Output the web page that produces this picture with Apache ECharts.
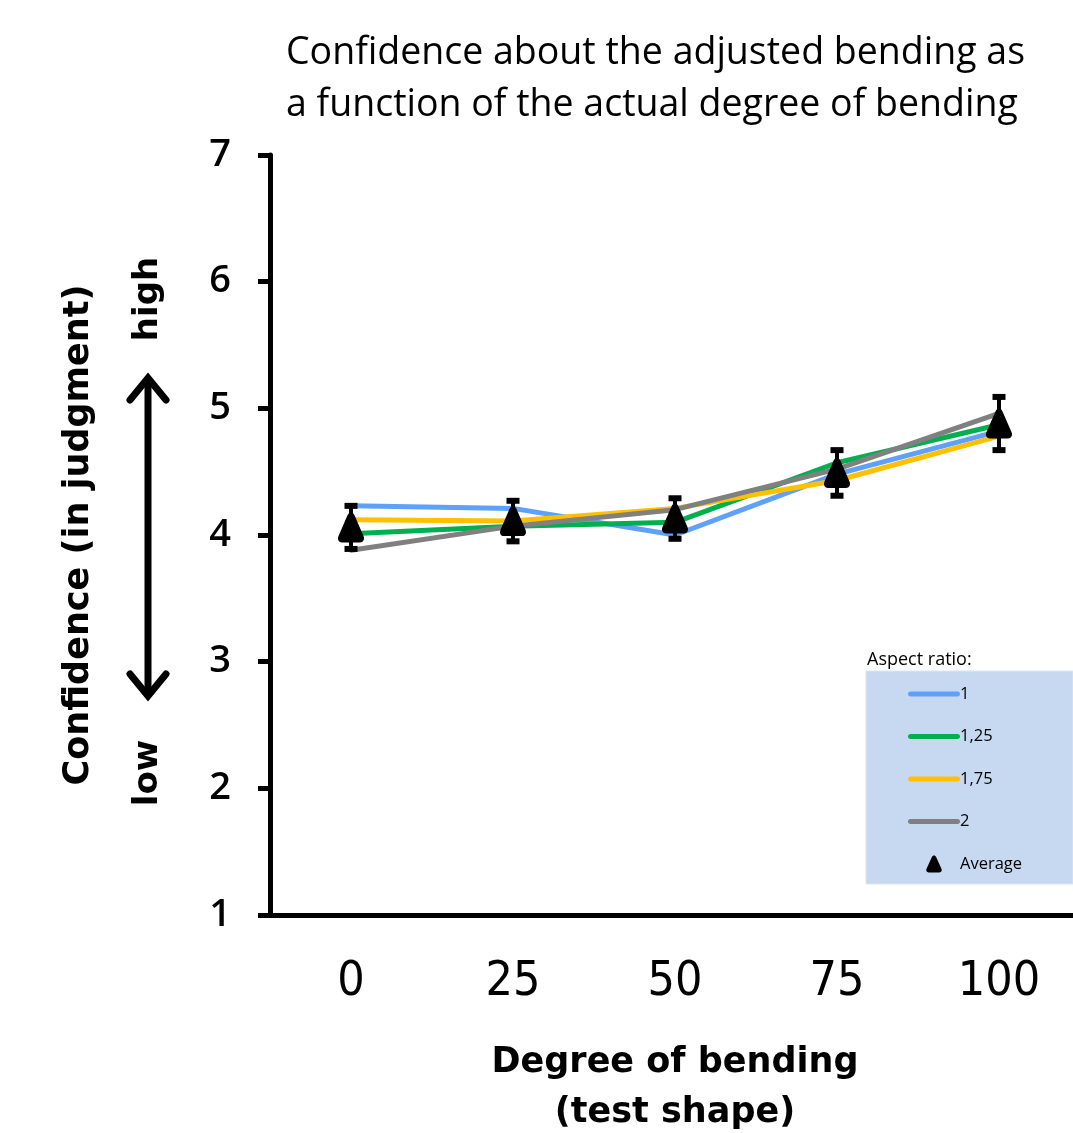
<!DOCTYPE html>
<html><head><meta charset="utf-8">
<script src="https://cdn.jsdelivr.net/npm/echarts@6/dist/echarts.min.js"></script>
<style>html,body{margin:0;padding:0;background:#fff}#c{width:1073px;height:1133px}</style>
</head><body><div id="c"></div>
<script>
const categories = ['0', '25', '50', '75', '100'];
const ratio1 = [4.23, 4.21, 4.00, 4.48, 4.82];
const ratio125 = [4.01, 4.07, 4.10, 4.57, 4.87];
const ratio175 = [4.12, 4.11, 4.21, 4.43, 4.78];
const ratio2 = [3.88, 4.07, 4.20, 4.52, 4.96];
const average = [4.06, 4.11, 4.13, 4.49, 4.88];
const averageErr = [0.17, 0.16, 0.16, 0.18, 0.21];
const yTicks = [1, 2, 3, 4, 5, 6, 7];

const chart = echarts.init(document.getElementById('c'));
const titleFont = '"Open Sans", Lato, sans-serif';
const heavyFont = '"DejaVu Sans", sans-serif';
const triPath = 'path://M10,0 C11.2,0 12,0.8 12.6,2 L19.2,16.5 C20.3,18.8 19,21 16.6,21 L3.4,21 C1,21 -0.3,18.8 0.8,16.5 L7.4,2 C8,0.8 8.8,0 10,0 Z';
const linePath = 'path://M2.5,0 L49.5,0 C51,0 52,1.1 52,2.5 C52,3.9 51,5 49.5,5 L2.5,5 C1,5 0,3.9 0,2.5 C0,1.1 1,0 2.5,0 Z';

function lineSeries(name, data, color) {
  return {
    name, type: 'line', data, symbol: 'none', z: 3,
    lineStyle: { color, width: 5, cap: 'round', join: 'round' },
    itemStyle: { color }
  };
}

const errData = average.map((v, i) => [i, v - averageErr[i], v + averageErr[i]]);

chart.setOption({
  animation: false,
  backgroundColor: '#fff',
  title: {
    text: 'Confidence about the adjusted bending as\na function of the actual degree of bending',
    left: 281, top: 22,
    textStyle: { fontFamily: titleFont, fontSize: 37.5, fontWeight: 'normal', lineHeight: 52, color: '#000' }
  },
  grid: { left: 270, top: 155, width: 810, height: 760, outerBoundsMode: 'none', containLabel: false },
  legend: {
    orient: 'vertical', left: 903, top: 680.5,
    itemWidth: 52, itemHeight: 17, itemGap: 25.5,
    textStyle: { fontFamily: titleFont, fontSize: 16.5, color: '#000', padding: [0, 0, 0, -5] },
    data: [
      { name: '1', icon: linePath }, { name: '1,25', icon: linePath },
      { name: '1,75', icon: linePath }, { name: '2', icon: linePath },
      { name: 'Average', icon: triPath }
    ]
  },
  xAxis: {
    type: 'category', data: categories, boundaryGap: true,
    axisLine: { lineStyle: { color: '#000', width: 5 } },
    axisTick: { length: 12, lineStyle: { width: 5, color: '#000' } },
    axisLabel: { fontFamily: '"Liberation Sans Narrow", "DejaVu Sans Condensed", sans-serif', fontSize: 48, color: '#000', margin: 44 },
    name: 'Degree of bending\n(test shape)', nameLocation: 'middle', nameGap: 123,
    nameTextStyle: { fontFamily: heavyFont, fontSize: 35, fontWeight: 'bold', color: '#000', lineHeight: 50, verticalAlign: 'top' }
  },
  yAxis: {
    type: 'value', min: 1, max: 7, interval: 1,
    splitLine: { show: false },
    axisLine: { show: true, lineStyle: { color: '#000', width: 5 } },
    axisTick: { show: true, length: 12, lineStyle: { width: 5, color: '#000' } },
    axisLabel: { fontFamily: '"Open Sans", Lato, sans-serif', fontSize: 38, fontWeight: 600, color: '#000', margin: 39, formatter: v => yTicks.includes(v) ? String(v) : '' },
    name: 'Confidence (in judgment)', nameLocation: 'middle', nameGap: 174, nameRotate: 90,
    nameTextStyle: { fontFamily: heavyFont, fontSize: 35, fontWeight: 'bold', color: '#000' }
  },
  graphic: [
    { type: 'rect', shape: { x: 866, y: 671, width: 207, height: 213 }, style: { fill: '#c6d9f0', stroke: '#dde6f0', lineWidth: 1 }, z: 0 },
    { type: 'text', x: 867, y: 660, style: { text: 'Aspect ratio:', fontFamily: titleFont, fontSize: 18, fill: '#000', verticalAlign: 'middle' } },
    { type: 'text', x: 148, y: 299, rotation: Math.PI / 2, style: { text: 'high', fontFamily: heavyFont, fontSize: 34, fontWeight: 'bold', fill: '#000', align: 'center', verticalAlign: 'middle' } },
    { type: 'text', x: 148, y: 773, rotation: Math.PI / 2, style: { text: 'low', fontFamily: heavyFont, fontSize: 34, fontWeight: 'bold', fill: '#000', align: 'center', verticalAlign: 'middle' } },
    { type: 'line', shape: { x1: 148, y1: 378, x2: 148, y2: 696 }, style: { stroke: '#000', lineWidth: 7 } },
    { type: 'polyline', shape: { points: [[130, 400], [148, 378], [166, 400]] }, style: { stroke: '#000', lineWidth: 7, fill: null, lineCap: 'round', lineJoin: 'miter' } },
    { type: 'polyline', shape: { points: [[130, 674], [148, 696], [166, 674]] }, style: { stroke: '#000', lineWidth: 7, fill: null, lineCap: 'round', lineJoin: 'miter' } }
  ],
  series: [
    lineSeries('1', ratio1, '#5fa0f9'),
    lineSeries('1,25', ratio125, '#00b050'),
    lineSeries('1,75', ratio175, '#ffc000'),
    lineSeries('2', ratio2, '#808080'),
    {
      name: 'Average error', type: 'custom', data: errData, z: 5,
      encode: { x: 0, y: [1, 2] },
      renderItem: (params, api) => {
        const x = api.coord([api.value(0), api.value(1)])[0];
        const yLo = api.coord([api.value(0), api.value(1)])[1];
        const yHi = api.coord([api.value(0), api.value(2)])[1];
        const st = { stroke: '#000', lineWidth: 4 };
        return { type: 'group', children: [
          { type: 'line', shape: { x1: x, y1: yLo, x2: x, y2: yHi }, style: st },
          { type: 'line', shape: { x1: x - 6.5, y1: yLo, x2: x + 6.5, y2: yLo }, style: { stroke: '#000', lineWidth: 6 } },
          { type: 'line', shape: { x1: x - 6.5, y1: yHi, x2: x + 6.5, y2: yHi }, style: { stroke: '#000', lineWidth: 6 } }
        ]};
      }
    },
    {
      name: 'Average', type: 'scatter', data: average, z: 6,
      symbol: triPath, symbolSize: [26, 30],
      itemStyle: { color: '#000', opacity: 1 }
    }
  ]
});
</script></body></html>
